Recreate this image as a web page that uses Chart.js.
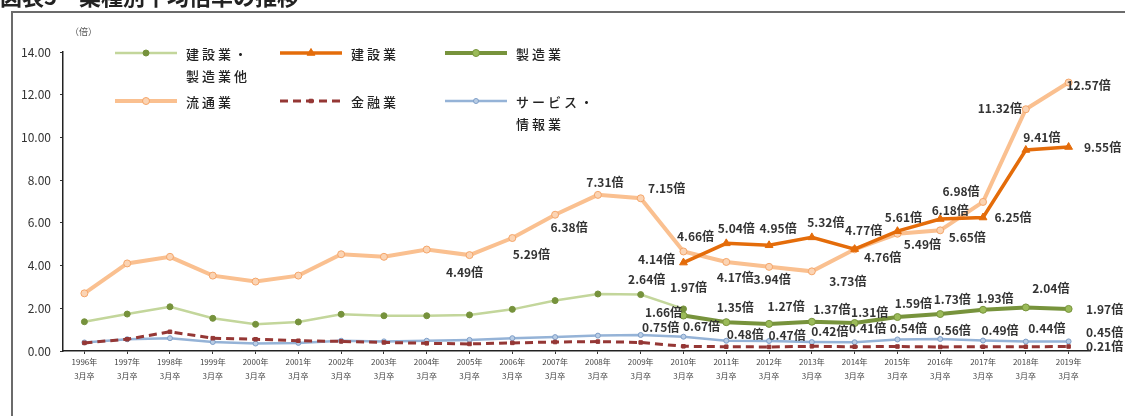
<!DOCTYPE html>
<html lang="ja">
<head>
<meta charset="utf-8">
<title>業種別平均倍率の推移</title>
<script src="https://cdn.jsdelivr.net/npm/chart.js@4.4.1/dist/chart.umd.min.js"></script>
<style>
  html, body { margin: 0; padding: 0; background: #fff; }
  canvas { display: block; }
</style>
</head>
<body>
<canvas id="ratioChart" width="1125" height="416"></canvas>
<script>
// 卒業年（各年3月卒）
const years = ['1996', '1997', '1998', '1999', '2000', '2001', '2002', '2003', '2004', '2005', '2006', '2007',
               '2008', '2009', '2010', '2011', '2012', '2013', '2014', '2015', '2016', '2017', '2018', '2019'];
const yTicks = [0, 2, 4, 6, 8, 10, 12, 14];

// 業種別の求人倍率（倍）
const kensetsuSeizo = [1.37, 1.73, 2.07, 1.53, 1.25, 1.36, 1.72, 1.65, 1.65, 1.69, 1.95, 2.36, 2.67, 2.64, 1.97,
                       null, null, null, null, null, null, null, null, null];
const kensetsu = [null, null, null, null, null, null, null, null, null, null, null, null, null, null,
                  4.14, 5.04, 4.95, 5.32, 4.77, 5.61, 6.18, 6.25, 9.41, 9.55];
const seizo = [null, null, null, null, null, null, null, null, null, null, null, null, null, null,
               1.66, 1.35, 1.27, 1.37, 1.31, 1.59, 1.73, 1.93, 2.04, 1.97];
const ryutsu = [2.70, 4.10, 4.41, 3.53, 3.25, 3.53, 4.53, 4.41, 4.75, 4.49, 5.29, 6.38, 7.31, 7.15, 4.66,
                4.17, 3.94, 3.73, 4.76, 5.49, 5.65, 6.98, 11.32, 12.57];
const kinyu = [0.38, 0.55, 0.90, 0.60, 0.55, 0.48, 0.45, 0.40, 0.36, 0.33, 0.38, 0.42, 0.44, 0.40, 0.22,
               0.20, 0.19, 0.22, 0.20, 0.21, 0.19, 0.20, 0.20, 0.21];
const service = [0.40, 0.55, 0.60, 0.42, 0.35, 0.38, 0.48, 0.45, 0.48, 0.52, 0.60, 0.65, 0.72, 0.75, 0.67,
                 0.48, 0.47, 0.42, 0.41, 0.54, 0.56, 0.49, 0.44, 0.45];

// 数値ラベルを付ける点と、点からのずらし量 [dx, dy]
const labelPlacement = {
  ryutsu: { 9: [-5, 17], 10: [19, 16], 11: [14, 13], 12: [7, -12], 13: [26, -10], 14: [12, -15], 15: [9, 15],
            16: [3, 13], 17: [36, 10], 18: [28, 8], 19: [25, 11], 20: [27, 7], 21: [-22, -10], 22: [-26, -1], 23: [20, 3] },
  kensetsu: { 14: [-27, -3], 15: [10, -15], 16: [9, -17], 17: [14, -15], 18: [9, -19], 19: [6, -14],
              20: [10, -9], 21: [30, 0], 22: [16, -13], 23: [34, 0] },
  seizo: { 14: [-20, -3], 15: [9, -15], 16: [17, -17], 17: [20, -12], 18: [15, -11], 19: [16, -14],
           20: [12, -15], 21: [12, -11], 22: [25, -19], 23: [36, 1] },
  service: { 13: [20, -8], 14: [18, -10], 15: [19, -6], 16: [18, -6], 17: [18, -11], 18: [13, -14],
             19: [11, -11], 20: [12, -9], 21: [17, -10], 22: [21, -13], 23: [36, -9] },
  kinyu: { 23: [36, 0] },
  kensetsuSeizo: { 13: [6, -15], 14: [5, -21] }
};

const FONT = "'Noto Sans CJK JP', 'Noto Sans', sans-serif";
Chart.defaults.font.family = FONT;
Chart.defaults.color = '#333';

const datasets = [
  {
    key: 'kensetsuSeizo', label: ['建設業・', '製造業他'], data: kensetsuSeizo,
    borderColor: '#c3d69b', borderWidth: 2.5, pointStyle: 'circle', pointRadius: 3,
    pointBackgroundColor: '#76923c', pointBorderColor: '#76923c', order: 4
  },
  {
    key: 'kensetsu', label: ['建設業'], data: kensetsu,
    borderColor: '#e46c0a', borderWidth: 3.5, pointStyle: 'triangle', pointRadius: 4.5,
    pointBackgroundColor: '#e46c0a', pointBorderColor: '#e46c0a', order: 1
  },
  {
    key: 'seizo', label: ['製造業'], data: seizo,
    borderColor: '#77933c', borderWidth: 4, pointStyle: 'circle', pointRadius: 3.5,
    pointBackgroundColor: '#9bbb59', pointBorderColor: '#77933c', order: 2
  },
  {
    key: 'ryutsu', label: ['流通業'], data: ryutsu,
    borderColor: '#fac090', borderWidth: 4, pointStyle: 'circle', pointRadius: 3.5,
    pointBackgroundColor: '#fbd4b4', pointBorderColor: '#f5a66a', order: 3
  },
  {
    key: 'kinyu', label: ['金融業'], data: kinyu,
    borderColor: '#953735', borderWidth: 3, borderDash: [8, 5], pointStyle: 'rect', pointRadius: 2.5,
    pointBackgroundColor: '#953735', pointBorderColor: '#953735', order: 5
  },
  {
    key: 'service', label: ['サービス・', '情報業'], data: service,
    borderColor: '#95b3d7', borderWidth: 2.5, pointStyle: 'circle', pointRadius: 2.5,
    pointBackgroundColor: '#b9cde5', pointBorderColor: '#7f9fc8', order: 6
  }
];
datasets.forEach(ds => {
  ds.tension = 0;
  ds.fill = false;
  ds.spanGaps = false;
  ds.pointBorderWidth = 1;
});

// 外枠・見出し・単位
const framePlugin = {
  id: 'frame',
  beforeDraw(chart) {
    const c = chart.ctx;
    c.save();
    c.fillStyle = '#fff';
    c.fillRect(0, 0, chart.width, chart.height);
    c.strokeStyle = '#6b6b6b';
    c.lineWidth = 2;
    c.beginPath();
    c.moveTo(12, chart.height);
    c.lineTo(12, 12);
    c.lineTo(chart.width, 12);
    c.stroke();
    c.fillStyle = '#222';
    c.font = 'bold 22px ' + FONT;
    c.textBaseline = 'alphabetic';
    c.fillText('図表5　業種別平均倍率の推移', 0, 5);
    c.fillStyle = '#555';
    c.font = '9px ' + FONT;
    c.textBaseline = 'middle';
    c.fillText('（倍）', 70, 32);
    c.restore();
  }
};

// 各点の「○.○○倍」ラベル
const valueLabels = {
  id: 'valueLabels',
  afterDatasetsDraw(chart) {
    const c = chart.ctx;
    c.save();
    c.font = 'bold 12px ' + FONT;
    c.fillStyle = '#333';
    c.textAlign = 'center';
    c.textBaseline = 'middle';
    chart.data.datasets.forEach((ds, i) => {
      const spots = labelPlacement[ds.key];
      if (!spots) return;
      const meta = chart.getDatasetMeta(i);
      Object.keys(spots).forEach(idx => {
        const pt = meta.data[idx];
        const v = ds.data[idx];
        if (!pt || v == null) return;
        const [dx, dy] = spots[idx];
        c.fillText(v.toFixed(2) + '倍', pt.x + dx, pt.y + dy);
      });
    });
    c.restore();
  }
};

// 凡例（3列×2段）
const legendSlots = [
  { key: 'kensetsuSeizo', x: 115, y: 53 },
  { key: 'kensetsu', x: 280, y: 53 },
  { key: 'seizo', x: 445, y: 53 },
  { key: 'ryutsu', x: 115, y: 101 },
  { key: 'kinyu', x: 280, y: 101 },
  { key: 'service', x: 445, y: 101 }
];
const legendPlugin = {
  id: 'cornerLegend',
  afterDraw(chart) {
    const c = chart.ctx;
    c.save();
    legendSlots.forEach(slot => {
      const ds = chart.data.datasets.find(d => d.key === slot.key);
      const len = 62;
      c.strokeStyle = ds.borderColor;
      c.lineWidth = ds.borderWidth;
      c.setLineDash(ds.borderDash || []);
      c.beginPath();
      c.moveTo(slot.x, slot.y);
      c.lineTo(slot.x + len, slot.y);
      c.stroke();
      c.setLineDash([]);
      c.fillStyle = ds.pointBackgroundColor;
      c.strokeStyle = ds.pointBorderColor;
      c.lineWidth = 1;
      Chart.helpers.drawPoint(c, {
        pointStyle: ds.pointStyle, radius: ds.pointRadius, rotation: 0, borderWidth: 1
      }, slot.x + len / 2, slot.y);
      c.fillStyle = '#222';
      c.font = '500 13px ' + FONT;
      c.letterSpacing = '3px';
      c.textBaseline = 'middle';
      ds.label.forEach((line, k) => {
        c.fillText(line, slot.x + len + 9, slot.y + 1 + k * 22);
      });
      c.letterSpacing = '0px';
    });
    c.restore();
  }
};

new Chart(document.getElementById('ratioChart'), {
  type: 'line',
  data: {
    labels: years.map(y => [y + '年', '3月卒']),
    datasets: datasets
  },
  options: {
    responsive: false,
    animation: false,
    devicePixelRatio: 1,
    layout: { padding: { top: 52, right: 35, bottom: 0, left: 0 } },
    plugins: {
      legend: { display: false },
      tooltip: { enabled: false }
    },
    scales: {
      x: {
        offset: true,
        grid: { drawOnChartArea: false, tickLength: 3, color: '#333' },
        border: { color: '#222', width: 1.5 },
        ticks: {
          autoSkip: false, maxRotation: 0, padding: 1, color: '#444',
          font: { size: 8, lineHeight: 1.75 }
        },
        afterFit(scale) { scale.height = 65; }
      },
      y: {
        min: 0,
        max: 14,
        afterBuildTicks(scale) { scale.ticks = yTicks.map(v => ({ value: v })); },
        grid: { drawOnChartArea: false, tickLength: 3, color: '#333' },
        border: { color: '#222', width: 1.5 },
        ticks: {
          padding: 9, color: '#333', font: { size: 12 },
          callback: v => v.toFixed(2)
        },
        afterFit(scale) { scale.width = 63; }
      }
    }
  },
  plugins: [framePlugin, valueLabels, legendPlugin]
});
</script>
</body>
</html>
